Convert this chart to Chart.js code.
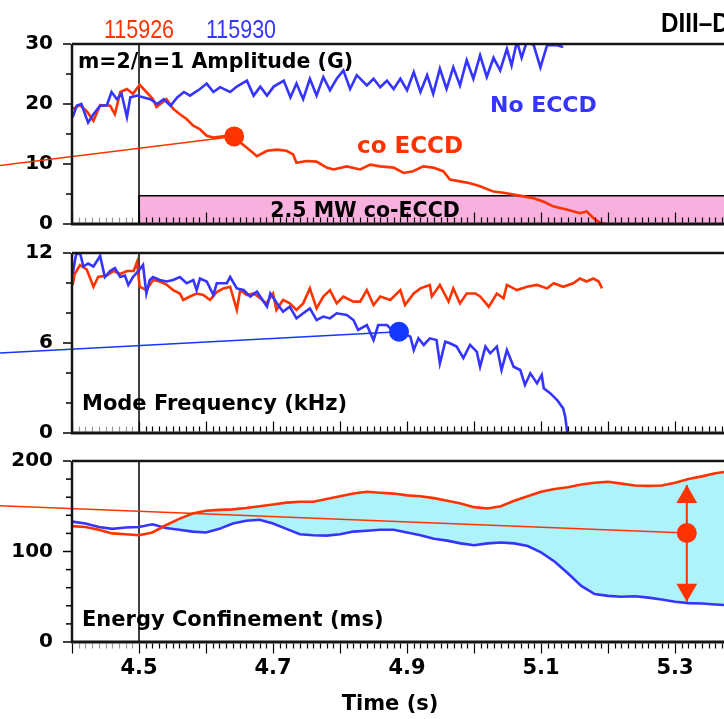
<!DOCTYPE html>
<html><head><meta charset="utf-8">
<script src="https://cdn.jsdelivr.net/npm/chart.js@4.4.0/dist/chart.umd.min.js"></script>
<style>
html,body{margin:0;padding:0;background:#fff;overflow:hidden}
#wrap{position:relative;width:724px;height:719px}
#wrap canvas{position:absolute;left:0;top:0}
</style></head><body>
<div id="wrap">
<canvas id="c1" width="724" height="719"></canvas>
<canvas id="c2" width="724" height="719"></canvas>
<canvas id="c3" width="724" height="719"></canvas>
</div>
<script>
// shots: 115926 = co ECCD (red), 115930 = no ECCD (blue)
const shots = ['115926', '115930'];
const tMin = 4.4, tMax = 5.373;
const xTickLabels = [4.5, 4.7, 4.9, 5.1, 5.3];

// ECCD window (2.5 MW co-ECCD starting at 4.5 s)
const eccdOn = 4.5, eccdOff = 5.45, eccdBoxTop = 4.7;

// panel 1: m=2/n=1 amplitude (G)
const ampCoT = [4.401,4.412,4.422,4.432,4.442,4.457,4.464,4.472,4.482,4.491,4.501,4.511,4.521,4.526,4.541,4.551,4.561,4.571,4.581,4.591,4.601,4.611,4.631,4.641,4.651,4.661,4.676,4.691,4.706,4.720,4.730,4.735,4.750,4.765,4.780,4.790,4.810,4.830,4.845,4.860,4.880,4.895,4.909,4.924,4.939,4.954,4.964,4.979,4.994,5.009,5.029,5.044,5.059,5.074,5.089,5.104,5.119,5.138,5.158,5.168,5.178,5.188,5.196];
const ampCoV = [19.2,19.8,18.8,17.2,19.8,19.7,18.3,22.0,22.5,21.7,23.2,22.0,20.8,19.5,20.8,19.2,18.3,17.5,16.4,15.8,14.7,14.4,14.7,14.4,13.6,12.7,11.3,12.2,12.4,12.2,11.6,10.2,10.5,10.4,9.4,9.1,9.6,9.1,9.9,9.6,9.4,8.5,8.8,9.6,9.4,8.8,7.4,7.1,6.8,6.3,5.4,5.2,4.9,4.6,4.3,3.7,2.9,2.4,1.8,2.1,1.0,0.2,0];
const ampNoT = [4.401,4.407,4.414,4.424,4.432,4.442,4.452,4.459,4.467,4.474,4.482,4.487,4.497,4.507,4.517,4.527,4.537,4.547,4.557,4.567,4.576,4.591,4.601,4.611,4.621,4.636,4.646,4.661,4.671,4.681,4.691,4.701,4.716,4.726,4.735,4.745,4.755,4.765,4.775,4.785,4.795,4.805,4.815,4.825,4.840,4.850,4.860,4.870,4.880,4.890,4.900,4.910,4.920,4.930,4.939,4.949,4.959,4.969,4.979,4.989,4.999,5.009,5.019,5.029,5.039,5.049,5.056,5.064,5.071,5.079,5.089,5.099,5.109,5.124,5.133];
const ampNoV = [17.8,19.7,20.0,16.9,18.3,19.7,19.8,22.0,20.8,21.7,17.8,21.1,21.4,21.1,20.8,20.0,20.8,19.7,21.1,22.0,21.4,22.5,23.4,22.0,22.8,22.0,22.9,23.9,21.4,22.9,21.4,22.9,23.9,21.1,23.4,20.8,24.2,21.4,24.5,22.3,24.2,25.6,22.5,24.8,23.1,24.2,22.8,23.9,22.5,24.2,22.3,25.3,22.0,24.8,21.7,25.9,22.5,26.1,23.1,27.3,24.2,28.1,24.5,27.7,25.6,29.2,26.4,30.5,27.7,30.5,29.8,26.1,29.8,29.8,29.5];

// panel 2: mode frequency (kHz)
const freqCoT = [4.401,4.404,4.412,4.422,4.432,4.439,4.452,4.462,4.472,4.482,4.492,4.497,4.501,4.511,4.521,4.531,4.541,4.551,4.561,4.566,4.576,4.586,4.596,4.606,4.616,4.626,4.636,4.646,4.651,4.661,4.671,4.681,4.690,4.700,4.705,4.715,4.725,4.735,4.745,4.755,4.765,4.775,4.785,4.795,4.805,4.820,4.830,4.840,4.850,4.860,4.875,4.890,4.897,4.910,4.920,4.934,4.937,4.949,4.962,4.969,4.979,4.989,5.002,5.009,5.022,5.034,5.044,5.049,5.064,5.079,5.094,5.109,5.119,5.133,5.148,5.158,5.168,5.178,5.186,5.191];
const freqCoV = [9.87,10.6,11.2,10.9,9.75,10.4,10.5,10.8,10.6,10.8,10.8,11.4,9.75,9.53,10.2,10.1,9.9,9.53,9.3,8.87,9.1,9.3,9.2,8.87,9.4,9.64,9.75,8.2,9.53,9.2,9.3,8.98,8.64,9.3,8.2,8.87,8.64,8.2,8.64,9.64,8.31,9.1,9.53,8.64,9.1,8.76,8.76,9.53,8.53,9.1,8.87,9.53,8.53,9.3,9.64,9.87,9.1,9.87,8.76,9.64,8.64,9.3,9.3,9.1,8.42,9.3,8.98,9.87,9.53,9.75,9.87,9.64,9.98,9.75,9.98,10.3,10.1,10.3,10.1,9.64];
const freqNoT = [4.401,4.406,4.412,4.417,4.424,4.432,4.442,4.449,4.457,4.464,4.472,4.479,4.484,4.491,4.501,4.506,4.511,4.516,4.521,4.531,4.541,4.551,4.561,4.571,4.581,4.586,4.591,4.601,4.611,4.616,4.631,4.636,4.646,4.656,4.666,4.676,4.691,4.696,4.706,4.715,4.725,4.735,4.745,4.755,4.765,4.775,4.785,4.795,4.810,4.820,4.827,4.840,4.850,4.857,4.870,4.880,4.889,4.905,4.910,4.917,4.925,4.934,4.944,4.949,4.957,4.964,4.974,4.984,4.994,5.004,5.009,5.017,5.024,5.034,5.041,5.049,5.059,5.069,5.076,5.084,5.094,5.101,5.104,5.114,5.124,5.133,5.136,5.138,5.139];
const freqNoV = [10.6,11.9,12.0,11.1,11.3,11.1,11.8,10.4,10.8,11.0,10.4,10.5,9.87,10.4,10.9,11.2,9.3,10.2,10.4,10.2,10.1,10.2,10.4,9.98,10.2,9.53,10.3,10.1,9.2,9.98,9.98,10.4,9.64,9.53,9.09,9.42,8.42,9.31,8.64,8.09,8.42,7.64,7.98,8.31,7.53,7.76,7.64,7.98,7.87,7.53,6.87,7.2,6.2,7.2,7.2,6.76,6.76,6.42,5.53,6.31,5.87,6.31,6.2,4.64,6.09,5.98,5.76,5.0,5.87,5.42,4.42,5.76,5.31,5.76,4.2,5.53,4.42,4.2,3.2,3.98,3.31,3.87,2.98,2.64,2.2,1.64,1.1,0.42,0];

// panel 3: energy confinement (ms)
const tauT = [4.40,4.42,4.44,4.46,4.48,4.50,4.52,4.54,4.56,4.58,4.60,4.62,4.64,4.66,4.68,4.70,4.72,4.74,4.76,4.78,4.80,4.82,4.84,4.86,4.88,4.90,4.92,4.94,4.96,4.98,5.00,5.02,5.04,5.06,5.08,5.10,5.12,5.14,5.16,5.18,5.20,5.22,5.24,5.26,5.28,5.30,5.32,5.34,5.36,5.38];
const tauCo = [128,127,124,120,119,118,121,129,136,142,145,146,146.5,148,150,152,154,155,155,158,161,164,166,165,164,162,161,159,156,153,149,147.5,150,156,161,166,169,171,174,176,177,175,173,172.5,173,176,180,183,186.5,188.5];
const tauNo = [133,131,127,125,126.5,127,130,126,124,122,121,125,131,134,135,131,125,119,118,117.5,119,122,123,124,124,121,118,114,112,109,107,109,110,109,106,99,89,76,62,53,51,50,50.5,49,47,44.5,43,42.5,41.5,40.5];

// call-outs (lines leading in from the left edge, dots, double arrow)
const callAmp = [[4.2925, 9.75], [4.642, 14.6]];
const callFreq = [[4.2925, 5.33], [4.888, 6.75]];
const callTau = [[4.2925, 150.6], [5.3175, 120.4]];
const tauArrow = [[5.3175, 173.5], [5.3175, 44.5]];
const tauArrowHeads = [[5.3175, 160.2], [5.3175, 57.8]];

const RED = '#ff3300', BLUE = '#3535ff';
const BOLD = 'bold 20.5px "DejaVu Sans"';

const pts = (T, V) => T.map((t, i) => ({x: t, y: V[i]}));
const pairs = P => P.map(p => ({x: p[0], y: p[1]}));

Chart.defaults.font.family = '"DejaVu Sans"';
Chart.defaults.elements.point.radius = 0;
Chart.defaults.elements.line.tension = 0;

const deco = {
  id: 'deco',
  beforeDatasetsDraw(chart, args, o) {
    const {ctx, chartArea: a, scales: {x}} = chart;
    const px = x.getPixelForValue(eccdOn);
    ctx.save();
    ctx.strokeStyle = '#000'; ctx.lineWidth = 1.5;
    ctx.beginPath(); ctx.moveTo(px, a.top); ctx.lineTo(px, a.bottom); ctx.stroke();
    ctx.restore();
  },
  afterDraw(chart, args, o) {
    const {ctx, chartArea: a, scales: {x, y}} = chart;
    ctx.save();
    // time ticks, every 10 ms, long every 100 ms
    const dir = o.ticksDown ? 1 : -1;
    for (let k = 440; k <= 540; k++) {
      const t = k / 100;
      if (t > x.max) break;
      const px = Math.round(x.getPixelForValue(t)) + 0.5;
      const major = k % 10 === 0;
      const len = major ? 10 : 5;
      ctx.strokeStyle = (!major && t < eccdOn) ? '#999' : '#000';
      ctx.lineWidth = 1.2;
      const y0 = a.bottom + dir * 1.5;
      ctx.beginPath(); ctx.moveTo(px, y0); ctx.lineTo(px, y0 + dir * len); ctx.stroke();
    }
    // y ticks, outward
    ctx.strokeStyle = '#000'; ctx.lineWidth = 1.5;
    for (let v = 0; v <= y.max + 1e-9; v += o.yMinor) {
      const py = y.getPixelForValue(v);
      const len = (Math.abs(v / o.yMajor - Math.round(v / o.yMajor)) < 1e-6) ? 8 : 5;
      ctx.beginPath(); ctx.moveTo(a.left - 1, py); ctx.lineTo(a.left - 1 - len, py); ctx.stroke();
    }
    // frame
    ctx.strokeStyle = '#151515';
    ctx.lineWidth = 2.5;
    ctx.beginPath(); ctx.moveTo(a.left, a.top); ctx.lineTo(a.right, a.top); ctx.stroke();
    ctx.beginPath(); ctx.moveTo(a.left, a.top); ctx.lineTo(a.left, a.bottom); ctx.stroke();
    ctx.lineWidth = 3;
    ctx.beginPath(); ctx.moveTo(a.left - 1, a.bottom); ctx.lineTo(a.right, a.bottom); ctx.stroke();
    // labels
    (o.texts || []).forEach(s => {
      ctx.save();
      ctx.font = s.font || BOLD;
      ctx.fillStyle = s.color || '#000';
      ctx.textAlign = s.align || 'left';
      ctx.textBaseline = 'alphabetic';
      ctx.translate(s.x, s.y);
      ctx.scale(s.sx || 1, 1);
      ctx.fillText(s.text, 0, 0);
      ctx.restore();
    });
    ctx.restore();
  }
};
Chart.register(deco);

function yScale(max, step) {
  return {
    min: 0, max: max,
    ticks: {stepSize: step, color: '#000', padding: 19, font: {size: 20, weight: 'bold'}},
    grid: {display: false, drawTicks: false},
    border: {display: false},
    afterFit: s => { s.width = 72; }
  };
}

function baseOptions(top, bottom, yOpts, decoOpts, xOpts) {
  return {
    responsive: false, animation: false, events: [],
    layout: {autoPadding: false, padding: {top: top, bottom: bottom, left: 0, right: 0}},
    plugins: {legend: {display: false}, tooltip: {enabled: false},
              filler: {drawTime: 'beforeDatasetsDraw'}, deco: decoOpts},
    scales: {
      x: Object.assign({type: 'linear', min: tMin, max: tMax, display: false}, xOpts || {}),
      y: yOpts
    }
  };
}

function callout(P, color, w) {
  return {data: pairs(P), borderColor: color, borderWidth: w, clip: false,
          pointRadius: [0, 10], pointBackgroundColor: color, pointBorderWidth: 0};
}

const SHOTFONT = '25px "Liberation Sans"';

// panel 1
new Chart(document.getElementById('c1'), {
  type: 'line',
  data: {datasets: [
    callout(callAmp, RED, 1.5),
    {data: pts(ampNoT, ampNoV), borderColor: BLUE, borderWidth: 2.6},
    {data: pts(ampCoT, ampCoV), borderColor: RED, borderWidth: 2.6},
    {data: pairs([[eccdOn, 0], [eccdOn, eccdBoxTop], [eccdOff, eccdBoxTop]]), borderColor: '#000', borderWidth: 1.5,
     backgroundColor: '#f8b0de', fill: 'origin'}
  ]},
  options: baseOptions(44, 719 - 224, yScale(30, 10), {
    yMinor: 5, yMajor: 10, ticksDown: false,
    texts: [
      {text: shots[0], x: 139, y: 38, color: RED, font: SHOTFONT, align: 'center', sx: 0.86},
      {text: shots[1], x: 241, y: 38, color: BLUE, font: SHOTFONT, align: 'center', sx: 0.86},
      {text: 'DIII\u2013D', x: 661, y: 32, font: 'bold 27px "Liberation Sans"', sx: 0.9},
      {text: 'm=2/n=1 Amplitude (G)', x: 78, y: 68},
      {text: 'No ECCD', x: 490, y: 112, color: BLUE, font: 'bold 22px "DejaVu Sans"'},
      {text: 'co ECCD', x: 357, y: 153, color: RED, font: 'bold 23px "DejaVu Sans"'},
      {text: '2.5 MW co-ECCD', x: 365, y: 217, align: 'center', font: 'bold 20.5px "DejaVu Sans"'}
    ]
  })
});

// panel 2
new Chart(document.getElementById('c2'), {
  type: 'line',
  data: {datasets: [
    callout(callFreq, '#1438ff', 1.5),
    {data: pts(freqNoT, freqNoV), borderColor: BLUE, borderWidth: 2.6},
    {data: pts(freqCoT, freqCoV), borderColor: RED, borderWidth: 2.6}
  ]},
  options: baseOptions(253, 719 - 433, yScale(12, 6), {
    yMinor: 2, yMajor: 6, ticksDown: false,
    texts: [{text: 'Mode Frequency (kHz)', x: 82, y: 410, font: 'bold 21px "DejaVu Sans"'}]
  })
});

// panel 3
new Chart(document.getElementById('c3'), {
  type: 'line',
  data: {datasets: [
    callout(callTau, RED, 1.5),
    {data: pairs(tauArrow), borderColor: RED, borderWidth: 2, clip: false},
    {data: pairs(tauArrowHeads), showLine: false, pointStyle: 'triangle', pointRadius: 12,
     pointRotation: [0, 180], pointBackgroundColor: RED, pointBorderWidth: 0},
    {data: pts(tauT, tauCo), borderColor: RED, borderWidth: 2.6,
     fill: {target: 4, above: '#aef2fa', below: 'rgba(0,0,0,0)'}},
    {data: pts(tauT, tauNo), borderColor: BLUE, borderWidth: 2.6}
  ]},
  options: baseOptions(461, 0, yScale(200, 100), {
    yMinor: 20, yMajor: 100, ticksDown: true,
    texts: [
      {text: 'Energy Confinement (ms)', x: 82, y: 626, font: 'bold 21px "DejaVu Sans"'},
      {text: 'Time (s)', x: 390, y: 710, align: 'center', font: 'bold 21px "DejaVu Sans"'}
    ]
  }, {
    display: true,
    afterBuildTicks: s => { s.ticks = xTickLabels.map(v => ({value: v})); },
    afterFit: s => { s.height = 77; },
    ticks: {autoSkip: false, maxRotation: 0, color: '#000', padding: 14,
            font: {size: 21, weight: 'bold'}, callback: v => Number(v).toFixed(1)},
    grid: {display: false, drawTicks: false},
    border: {display: false}
  })
});
</script></body></html>
